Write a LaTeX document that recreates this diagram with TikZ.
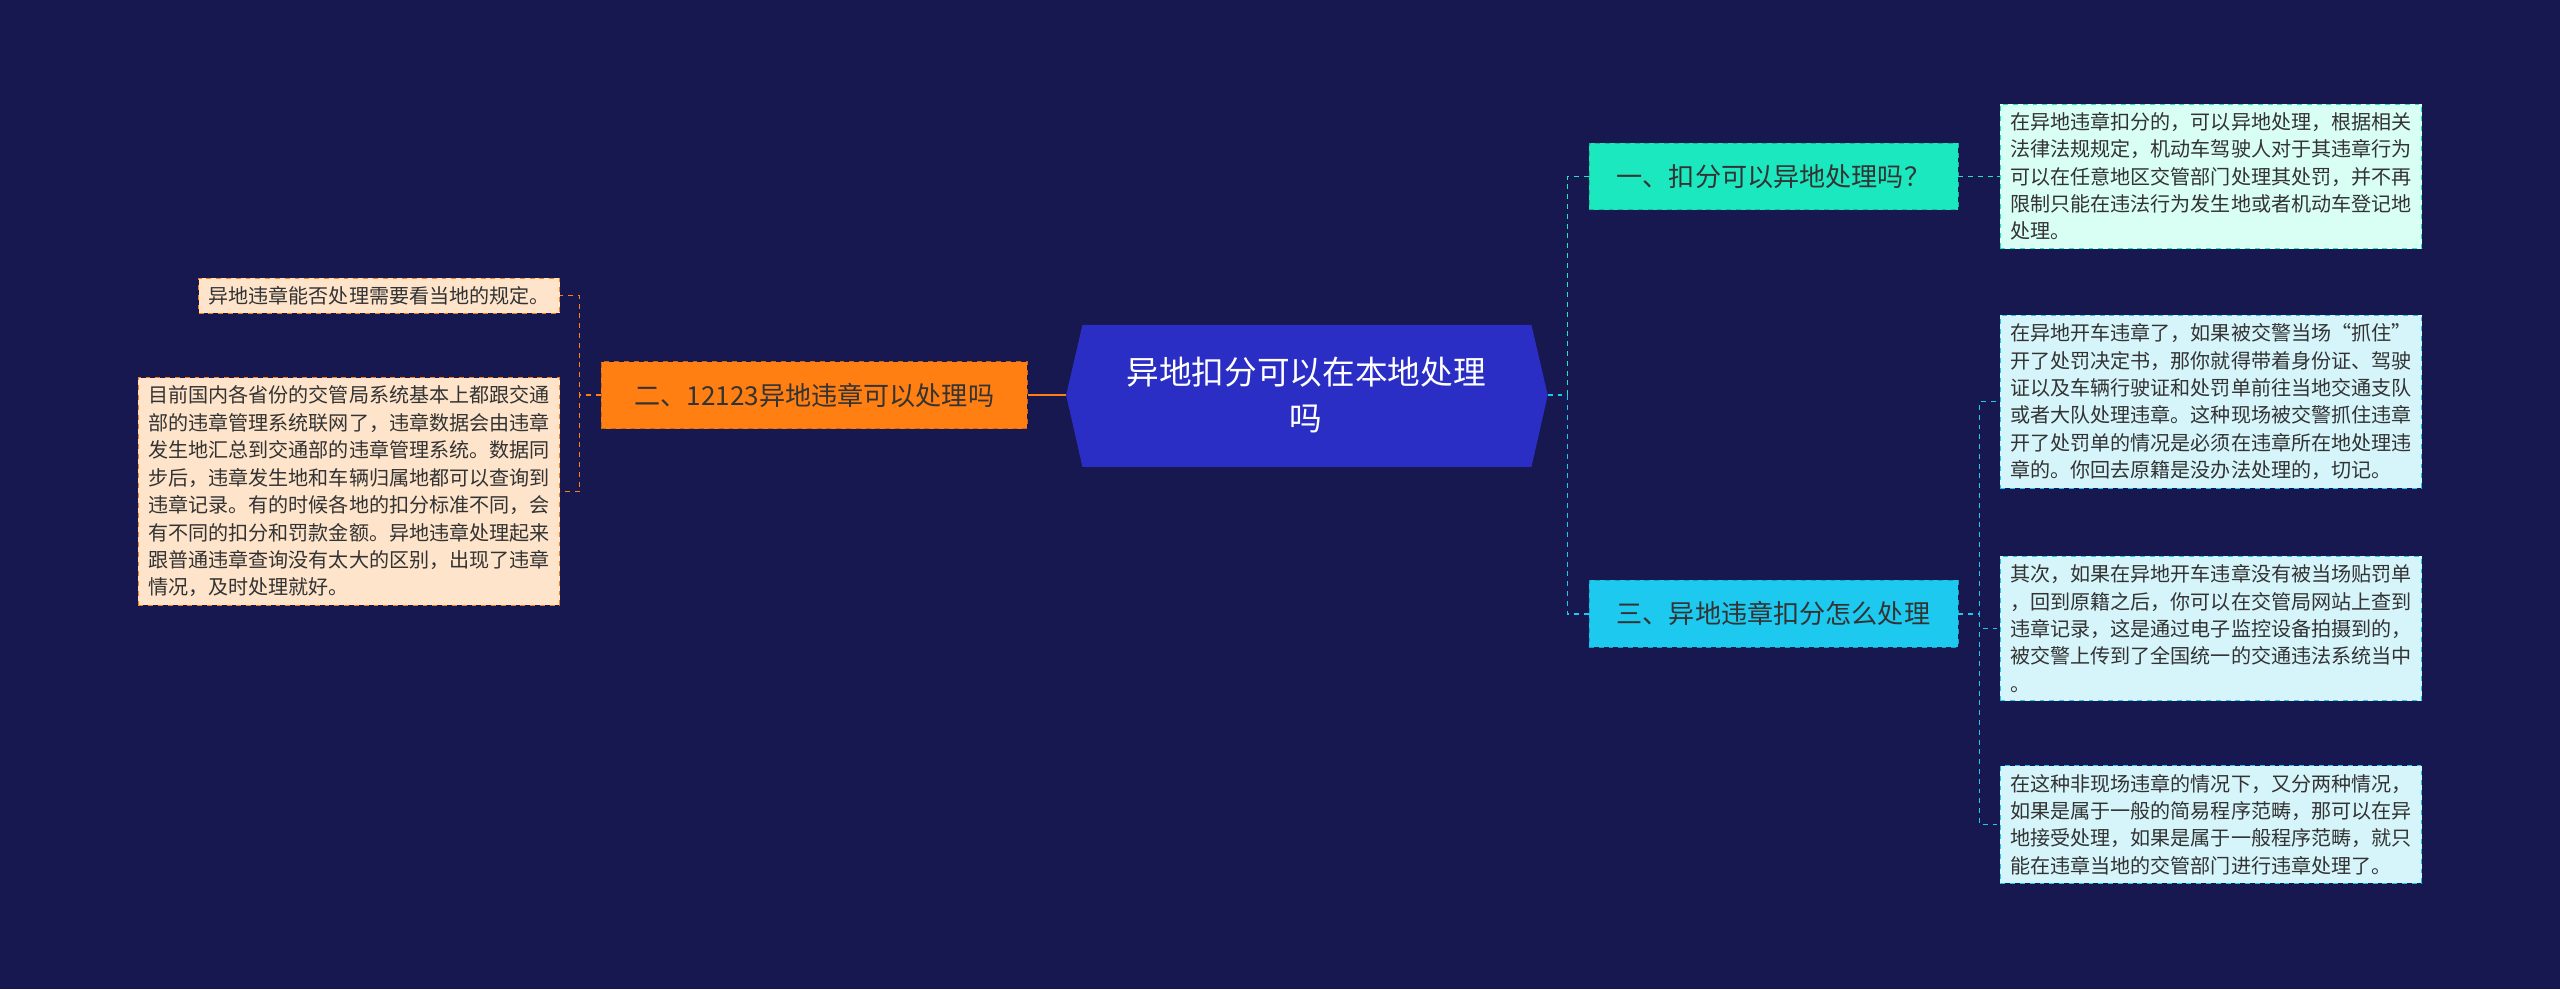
\documentclass[tikz,border=0pt]{standalone}
\usepackage{fontspec}
\setmainfont{Noto Sans CJK SC}
\usetikzlibrary{positioning}
\definecolor{bgc}{HTML}{17184F}
\definecolor{rootc}{HTML}{2A2EC4}
\definecolor{tealc}{HTML}{1CE8BF}
\definecolor{cyanc}{HTML}{1EC9EF}
\definecolor{orangec}{HTML}{FF7F12}
\definecolor{mintc}{HTML}{D9FEF3}
\definecolor{lcyanc}{HTML}{D6F5FB}
\definecolor{peachc}{HTML}{FDE4CB}
\definecolor{txtc}{HTML}{333333}
\tikzset{
  branch/.style={draw=#1!80!black, dashed, fill=#1, text=txtc, font=\fontsize{16}{18}\selectfont, inner sep=0pt, minimum height=41pt},
  leaf/.style 2 args={draw=#1, dashed, fill=#2, text=txtc, font=\fontsize{12.3}{16.8}\selectfont, align=left, inner xsep=6pt, inner ysep=5pt, anchor=west},
  link/.style={draw=#1, dashed, line width=1pt}
}
\begin{document}
\begin{tikzpicture}[x=1pt,y=-1pt]
\fill[bgc] (0,0) rectangle (1568,606);
\useasboundingbox (0,0) rectangle (1568,606);
% root
\fill[rootc] (663,199) -- (938,199) -- (948,242) -- (938,286) -- (663,286) -- (653,242) -- cycle;
\node[text=white, font=\fontsize{20}{28}\selectfont, align=center] (root) at (800,242) {异地扣分可以在本地处理\\吗};
\coordinate (rr) at (948,242);
\coordinate (rl) at (653,242);
% branches
\node[branch=tealc, minimum width=226pt, anchor=west] (b1) at (973,108) {一、扣分可以异地处理吗？};
\node[branch=cyanc, minimum width=226pt, anchor=west] (b3) at (973,376) {三、异地违章扣分怎么处理};
\node[branch=orangec, minimum width=261pt, anchor=west] (b2) at (368,242) {二、12123异地违章可以处理吗};
% leaves
\node[leaf={tealc}{mintc}] (l1) at (1225,108) {在异地违章扣分的，可以异地处理，根据相关\\法律法规规定，机动车驾驶人对于其违章行为\\可以在任意地区交管部门处理其处罚，并不再\\限制只能在违法行为发生地或者机动车登记地\\处理。};
\node[leaf={cyanc}{lcyanc}] (l3a) at (1225,246) {在异地开车违章了，如果被交警当场“抓住”\\开了处罚决定书，那你就得带着身份证、驾驶\\证以及车辆行驶证和处罚单前往当地交通支队\\或者大队处理违章。这种现场被交警抓住违章\\开了处罚单的情况是必须在违章所在地处理违\\章的。你回去原籍是没办法处理的，切记。};
\node[leaf={cyanc}{lcyanc}] (l3b) at (1225,385) {其次，如果在异地开车违章没有被当场贴罚单\\，回到原籍之后，你可以在交管局网站上查到\\违章记录，这是通过电子监控设备拍摄到的，\\被交警上传到了全国统一的交通违法系统当中\\。};
\node[leaf={cyanc}{lcyanc}] (l3c) at (1225,505) {在这种非现场违章的情况下，又分两种情况，\\如果是属于一般的简易程序范畴，那可以在异\\地接受处理，如果是属于一般程序范畴，就只\\能在违章当地的交管部门进行违章处理了。};
\node[leaf={orangec}{peachc}, anchor=east] (l2a) at (343,181) {异地违章能否处理需要看当地的规定。};
\node[leaf={orangec}{peachc}, anchor=east] (l2b) at (343,301) {目前国内各省份的交管局系统基本上都跟交通\\部的违章管理系统联网了，违章数据会由违章\\发生地汇总到交通部的违章管理系统。数据同\\步后，违章发生地和车辆归属地都可以查询到\\违章记录。有的时候各地的扣分标准不同，会\\有不同的扣分和罚款金额。异地违章处理起来\\跟普通违章查询没有太大的区别，出现了违章\\情况，及时处理就好。};
% connectors
\draw[link=tealc] (rr) -- ++(12,0) |- (b1.west);
\draw[link=cyanc] (rr) -- ++(12,0) |- (b3.west);
\draw[link=tealc] (b1.east) -- (l1.west);
\draw[link=cyanc] (b3.east) -- ++(13,0) |- (l3a.west);
\draw[link=cyanc] (b3.east) -- ++(13,0) |- (l3b.west);
\draw[link=cyanc] (b3.east) -- ++(13,0) |- (l3c.west);
\draw[orangec, line width=1.5pt] (rl) -- (b2.east);
\draw[link=orangec] (b2.west) -- ++(-13,0) |- (l2a.east);
\draw[link=orangec] (b2.west) -- ++(-13,0) |- (l2b.east);
\end{tikzpicture}
\end{document}
